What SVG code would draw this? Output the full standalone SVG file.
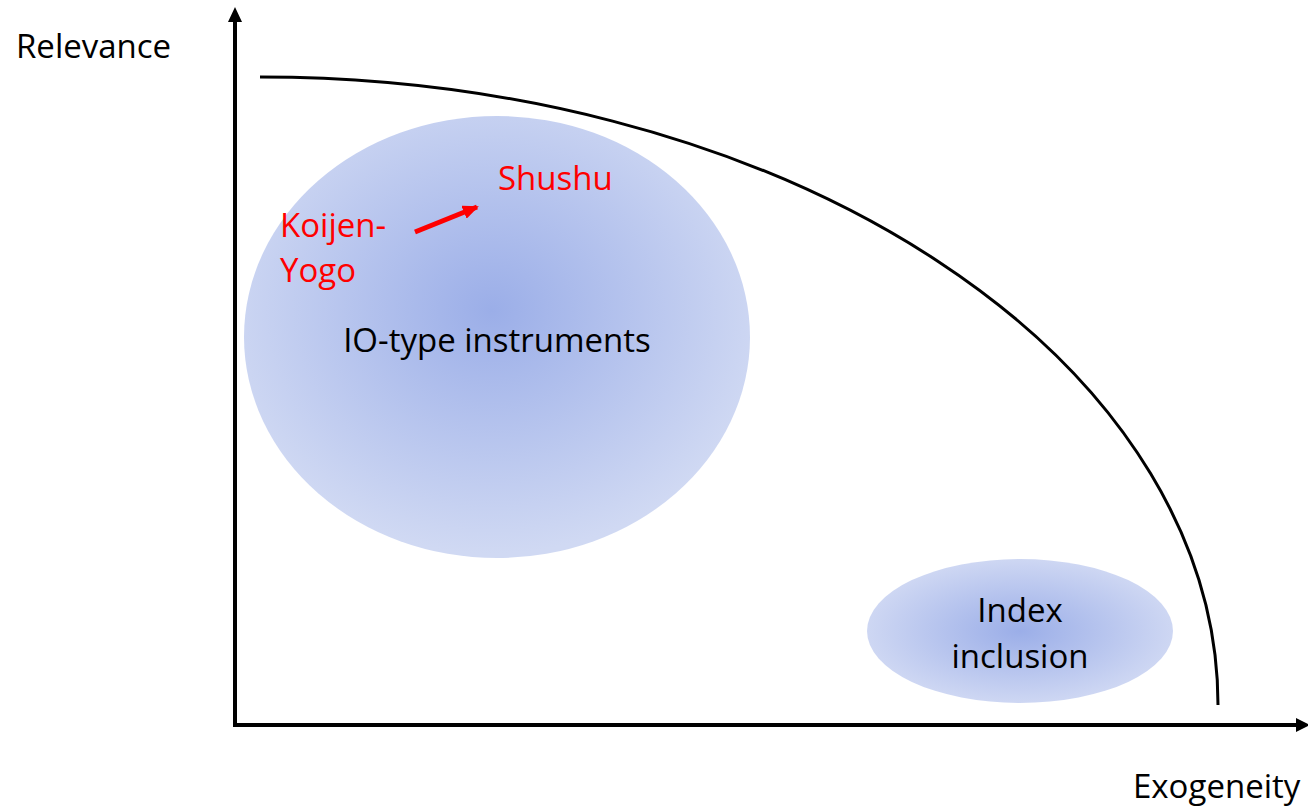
<svg xmlns="http://www.w3.org/2000/svg" width="1308" height="807" viewBox="0 0 1308 807">
<style>
.t{font-family:"Open Sans","Noto Sans",sans-serif;font-size:33px;fill:#000}
.r{fill:#FF0000}
.ax{stroke:#000;stroke-width:4;fill:none}
</style>
<defs>
<radialGradient id="g1" cx="0.49" cy="0.44" r="0.55">
<stop offset="0" stop-color="#9BAEE8"/>
<stop offset="1" stop-color="#D0D9F3"/>
</radialGradient>
<radialGradient id="g2" cx="0.5" cy="0.5" r="0.55">
<stop offset="0" stop-color="#9BAEE8"/>
<stop offset="1" stop-color="#D3DBF4"/>
</radialGradient>
<marker id="rh" markerWidth="16" markerHeight="14" refX="14" refY="7" orient="auto" markerUnits="userSpaceOnUse" viewBox="0 0 16 14">
<path d="M0,0 L16,7 L0,14 z" fill="#FF0000"/>
</marker>
</defs>
<g id="io">
<ellipse cx="497" cy="337" rx="253" ry="221" fill="url(#g1)"/>
<text class="t" x="497" y="352" text-anchor="middle">IO-type instruments</text>
</g>
<g id="index">
<ellipse cx="1020" cy="631" rx="153" ry="72" fill="url(#g2)"/>
<text class="t" x="1020" y="622" text-anchor="middle">Index</text>
<text class="t" x="1020" y="668" text-anchor="middle">inclusion</text>
</g>
<g id="shushu"><text class="t r" x="498" y="190">Shushu</text></g>
<g id="koijen"><text class="t r" x="280" y="237">Koijen-</text><text class="t r" x="280" y="282">Yogo</text></g>
<g id="relevance"><text class="t" x="16" y="58">Relevance</text></g>
<g id="exogeneity"><text class="t" x="1133" y="798">Exogeneity</text></g>
<g id="connectors">
<path d="M235,727 L235,22" class="ax"/>
<path d="M228,22 L235,7 L242,22 z" fill="#000"/>
<path d="M233,725 L1296,725" class="ax"/>
<path d="M1296,718 L1310,725 L1296,732 z" fill="#000"/>
<path d="M260,77 A958,628 0 0 1 1218,705" stroke="#000" stroke-width="3" fill="none"/>
<path d="M415,232 L477,207" stroke="#FF0000" stroke-width="5" fill="none" marker-end="url(#rh)"/>
</g>
</svg>
